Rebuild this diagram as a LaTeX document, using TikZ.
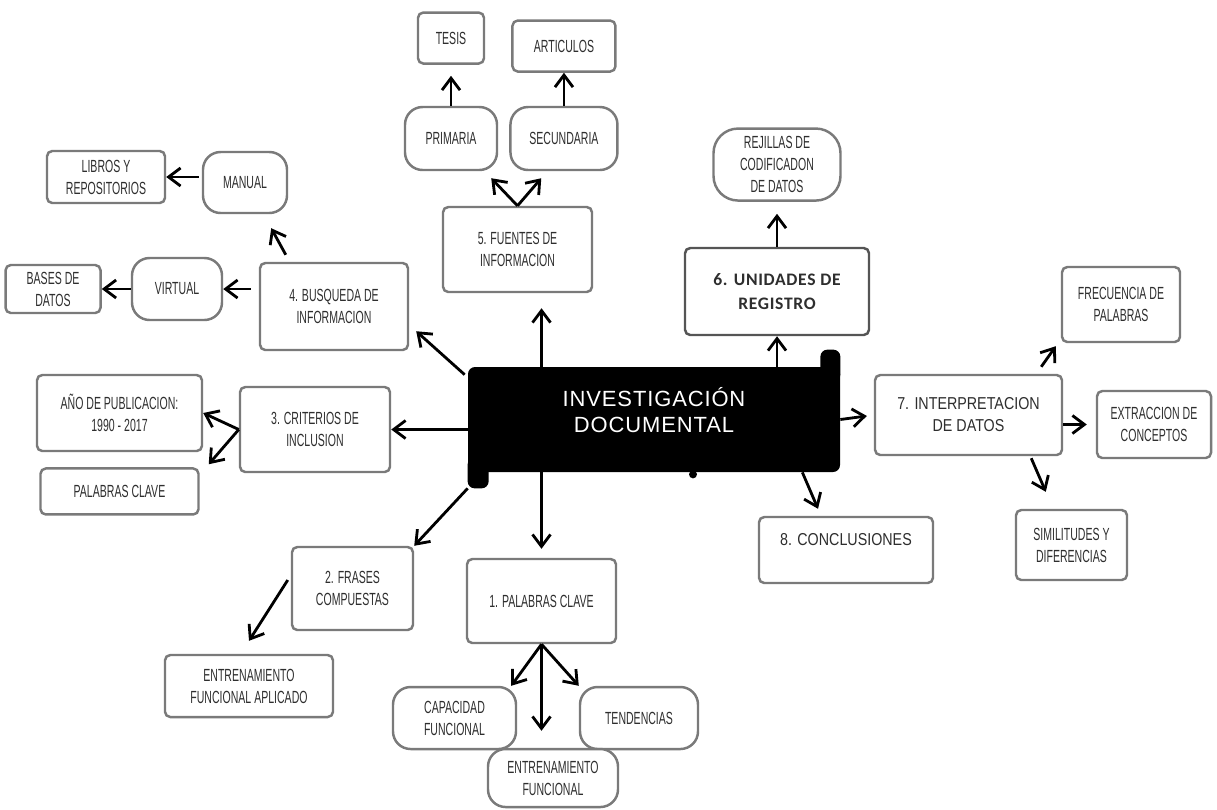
\documentclass[tikz,border=0pt]{standalone}
\usepackage{fontspec}
\setmainfont{Liberation Sans}
\newfontfamily\narrowfont{Liberation Sans}[FakeStretch=0.6]
\newfontfamily\midfont{Liberation Sans}[FakeStretch=0.83]
\newfontfamily\regfont{Carlito}[LetterSpace=4]
\newfontfamily\titlefont{Liberation Sans}[LetterSpace=4]
\usetikzlibrary{arrows.meta,positioning}
\definecolor{mapEdge}{HTML}{7A7A7A}
\definecolor{mapEdgeDark}{HTML}{555555}
\definecolor{mapText}{HTML}{2E2E2E}

\begin{document}
\begin{tikzpicture}[font=\narrowfont\fontsize{10}{12.5}\selectfont,text=mapText,
      box/.style={draw=mapEdge,fill=white,line width=1.4pt,rounded corners=3pt,align=center,inner sep=2pt},
      pill/.style={box,rounded corners=10pt},
      link/.style={-{Straight Barb[length=2.4mm,width=3.6mm,line width=1.6pt]},line width=1.6pt,black}]
    \useasboundingbox (0,0) rectangle (24.34,-16.18);
    \node[fill=black,rounded corners=4pt,minimum width=7.44cm,minimum height=2.1cm,text=white,align=center,
      font=\titlefont\fontsize{12.5}{15}\selectfont] (inv) at (13.08,-8.39) {INVESTIGACIÓN\\DOCUMENTAL\\[-4pt]\mbox{}};
    \fill[rounded corners=4pt] ([xshift=-0.40cm,yshift=-0.3cm]inv.north east) rectangle ([yshift=0.34cm]inv.north east);
    \fill[rounded corners=4pt] ([yshift=0.3cm]inv.south west) rectangle ([xshift=0.42cm,yshift=-0.32cm]inv.south west);
    \fill ([xshift=0.78cm,yshift=-0.04cm]inv.south) circle (0.08);

    \node[box,minimum width=2.98cm,minimum height=1.7cm] (fuentes) at (10.35,-4.99) {5. FUENTES DE\\INFORMACION};
    \node[pill,minimum width=1.84cm,minimum height=1.26cm] (prim) at (9.02,-2.77) {PRIMARIA};
    \node[pill,right=0.22cm of prim,minimum width=2.14cm,minimum height=1.26cm] (sec) {SECUNDARIA};
    \node[box,above=0.82cm of prim,minimum width=1.32cm,minimum height=1.02cm] (tesis) {TESIS};
    \node[box,above=0.66cm of sec,minimum width=2.06cm,minimum height=1.02cm] (art) {ARTICULOS};

    \node[box,minimum width=2.96cm,minimum height=1.74cm] (busq) at (6.68,-6.13) {4. BUSQUEDA DE\\INFORMACION};
    \node[pill,minimum width=1.8cm,minimum height=1.24cm] (virtual) at (3.54,-5.78) {VIRTUAL};
    \node[box,left=0.58cm of virtual,minimum width=1.9cm,minimum height=0.96cm] (bases) {BASES DE\\DATOS};
    \node[pill,minimum width=1.68cm,minimum height=1.22cm] (manual) at (4.9,-3.65) {MANUAL};
    \node[box,minimum width=2.36cm,minimum height=1.04cm] (libros) at (2.12,-3.54) {LIBROS Y\\REPOSITORIOS};

    \node[box,minimum width=3cm,minimum height=1.7cm] (crit) at (6.3,-8.59) {3. CRITERIOS DE\\INCLUSION};
    \node[box,minimum width=3.3cm,minimum height=1.52cm] (anio) at (2.39,-8.26) {AÑO DE PUBLICACION:\\1990 - 2017};
    \node[box,below=0.3cm of anio,minimum width=3.16cm,minimum height=0.92cm] (clave) {PALABRAS CLAVE};
    \node[box,minimum width=2.42cm,minimum height=1.66cm] (frases) at (7.05,-11.77) {2. FRASES\\COMPUESTAS};
    \node[box,minimum width=3.36cm,minimum height=1.24cm] (aplicado) at (4.98,-13.72) {ENTRENAMIENTO\\FUNCIONAL APLICADO};

    \node[box,minimum width=2.98cm,minimum height=1.68cm] (pal) at (10.83,-12.02) {1. PALABRAS CLAVE};
    \node[pill,minimum width=2.46cm,minimum height=1.24cm] (capac) at (9.09,-14.36) {CAPACIDAD\\FUNCIONAL};
    \node[pill,minimum width=2.36cm,minimum height=1.24cm] (tend) at (12.78,-14.36) {TENDENCIAS};
    \node[pill,minimum width=2.6cm,minimum height=1.16cm] (entren) at (11.06,-15.56) {ENTRENAMIENTO\\FUNCIONAL};

    \node[box,draw=mapEdgeDark,minimum width=3.68cm,minimum height=1.74cm,
      font=\regfont\bfseries\fontsize{10}{14}\selectfont] (unid) at (15.54,-5.83) {6. UNIDADES DE\\REGISTRO};
    \node[pill,rounded corners=14pt,above=0.9cm of unid,minimum width=2.54cm,minimum height=1.44cm] (rej) {REJILLAS DE\\CODIFICADON\\DE DATOS};
    \node[box,minimum width=3.74cm,minimum height=1.6cm,font=\midfont\fontsize{9.8}{12.5}\selectfont] (interp) at (19.37,-8.3) {7. INTERPRETACION\\DE DATOS};
    \node[box,minimum width=2.36cm,minimum height=1.5cm] (frec) at (22.42,-6.09) {FRECUENCIA DE\\PALABRAS};
    \node[box,minimum width=2.28cm,minimum height=1.34cm] (extr) at (23.08,-8.49) {EXTRACCION DE\\CONCEPTOS};
    \node[box,minimum width=2.22cm,minimum height=1.4cm] (simil) at (21.43,-10.9) {SIMILITUDES Y\\DIFERENCIAS};
    \node[box,minimum width=3.48cm,minimum height=1.32cm,font=\midfont\fontsize{9.8}{12}\selectfont] (concl) at (16.92,-11) {8. CONCLUSIONES\\\mbox{}};

    \foreach \a/\b in {crit.west/anio.east,virtual.west/bases.east,sec.north/art.south,pal.south/tend.north west,inv.north -| unid/unid.south}
      \draw[link] (\a) -- (\b);
    \draw[link,shorten >=0.3cm] (inv.north -| pal) -- (fuentes.south -| pal);
    \draw[link] (fuentes.north) -- ([shift={(-0.14,-0.14)}]prim.south east);
    \draw[link] (fuentes.north) -- ([shift={(0.64,-0.14)}]sec.south west);
    \draw[link,shorten >=0.22cm] (prim.north) -- (tesis.south);
    \draw[link] ([shift={(-0.06,-0.16)}]inv.north west) -- ([shift={(0.14,0.4)}]busq.south east);
    \draw[link] ([shift={(0.54,0.14)}]busq.north west) -- ([shift={(-0.34,-0.28)}]manual.south east);
    \draw[link,shorten <=0.16cm] (busq.west |- virtual.east) -- (virtual.east);
    \draw[link,shorten <=0.06cm] (manual.west |- libros.east) -- (libros.east);
    \draw[link] (inv.west |- crit.east) -- (crit.east);
    \draw[link] (crit.west) -- ([shift={(0.18,0.06)}]clave.north east);
    \draw[link] ([yshift=-0.32cm]inv.south west) -- (frases.north east);
    \draw[link] ([shift={(-0.06,0.17)}]frases.west) -- ([yshift=0.26cm]aplicado.north);
    \draw[link,shorten >=0.18cm] (inv.south -| pal) -- (pal.north);
    \draw[link] (pal.south) -- ([xshift=-0.12cm]capac.north east);
    \draw[link,shorten >=0.34cm] (pal.south) -- (entren.north -| pal.south);
    \draw[link,shorten >=0.24cm] (unid.north) -- (rej.south);
    \draw[link,shorten >=0.14cm] (inv.east) -- (interp.west);
    \draw[link] ([xshift=-0.76cm]inv.south east) -- ([shift={(-0.56,0.14)}]concl.north);
    \draw[link] ([shift={(-0.44,0.14)}]interp.north east) -- ([shift={(-0.1,-0.06)}]frec.south west);
    \draw[link,shorten >=0.18cm] (interp.east |- extr.west) -- (extr.west);
    \draw[link] ([shift={(-0.64,-0.04)}]interp.south east) -- ([shift={(0.62,0.34)}]simil.north west);
  \end{tikzpicture}
\end{document}
